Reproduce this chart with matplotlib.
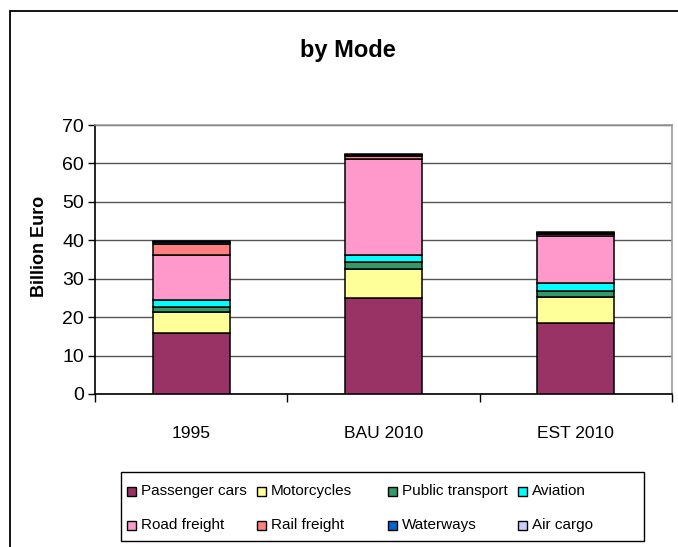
import matplotlib
matplotlib.use('Agg')
import matplotlib.pyplot as plt
from matplotlib.patches import Rectangle
import numpy as np

plt.rcParams['font.family'] = ['Liberation Sans', 'DejaVu Sans']

# 데이터
categories = ['1995', 'BAU 2010', 'EST 2010']
series_names = ['Passenger cars', 'Motorcycles', 'Public transport', 'Aviation',
                'Road freight', 'Rail freight', 'Waterways', 'Air cargo']
passenger_cars = [15.8, 24.9, 18.6]
motorcycles = [5.5, 7.5, 6.6]
public_transport = [1.4, 1.9, 1.6]
aviation = [1.7, 2.0, 2.0]
road_freight = [11.9, 24.9, 12.2]
rail_freight = [2.8, 0.8, 0.7]
waterways = [0.4, 0.2, 0.3]
air_cargo = [0.2, 0.2, 0.2]
yticks = [0, 10, 20, 30, 40, 50, 60, 70]

series = [passenger_cars, motorcycles, public_transport, aviation,
          road_freight, rail_freight, waterways, air_cargo]
colors = ['#993366', '#FFFF99', '#339966', '#00FFFF',
          '#FF99CC', '#FF8080', '#0066CC', '#CCCCFF']

W, H = 678, 547
fig = plt.figure(figsize=(W / 100, H / 100), dpi=100)

# 바깥 테두리
fig.patches.append(Rectangle((10 / W, -0.05), 1.1, 1 - 11 / H + 0.05, transform=fig.transFigure,
                             fill=False, edgecolor='black', linewidth=1.3))

ax = fig.add_axes([95 / W, 1 - 394 / H, (672 - 95) / W, (394 - 125) / H])

x = np.arange(len(categories))
bottom = np.zeros(len(categories))
for name, vals, c in zip(series_names, series, colors):
    ax.bar(x, vals, width=0.4, bottom=bottom, color=c, edgecolor='black', linewidth=1.1, label=name, zorder=3)
    bottom += np.array(vals)

ax.set_xlim(-0.5, 2.5)
ax.set_ylim(0, 70)
ax.set_yticks(yticks)
ax.tick_params(axis='y', labelsize=14, length=5, width=1, direction='out', pad=3)
ax.set_xticks(x)
ax.set_xticklabels(categories)
ax.tick_params(axis='x', which='major', labelsize=12.5, length=0, pad=23)
ax.set_xticks([-0.5, 0.5, 1.5, 2.5], minor=True)
ax.tick_params(axis='x', which='minor', length=6, width=1, direction='out')
ax.grid(axis='y', color='#555555', linewidth=1, zorder=0)
ax.spines['left'].set_color('black')
ax.spines['bottom'].set_color('black')
ax.spines['top'].set_color('#999999')
ax.spines['right'].set_color('#999999')
for s in ax.spines.values():
    s.set_linewidth(1.2)

fig.text(348 / W, 1 - 50 / H, 'by Mode', ha='center', va='center', fontsize=17, fontweight='bold')
fig.text(40 / W, 1 - 246 / H, 'Billion Euro', ha='center', va='center', rotation=90,
         fontsize=13, fontweight='bold')

# 범례 (엑셀처럼 같은 간격의 4열 x 2행)
fig.patches.append(Rectangle((121 / W, 1 - 541 / H), (644 - 121) / W, (541 - 472) / H,
                             transform=fig.transFigure, fill=False, edgecolor='black', linewidth=1))
col_x = [127, 257, 388, 518]
row_y = [491, 525]
for i, (name, c) in enumerate(zip(series_names, colors)):
    cx = col_x[i % 4]
    cy = row_y[i // 4]
    fig.patches.append(Rectangle((cx / W, 1 - (cy + 4.5) / H), 9 / W, 9 / H, transform=fig.transFigure,
                                 facecolor=c, edgecolor='black', linewidth=1))
    fig.text((cx + 14) / W, 1 - cy / H, name, ha='left', va='center', fontsize=11)

fig.savefig('out.png', dpi=100)
